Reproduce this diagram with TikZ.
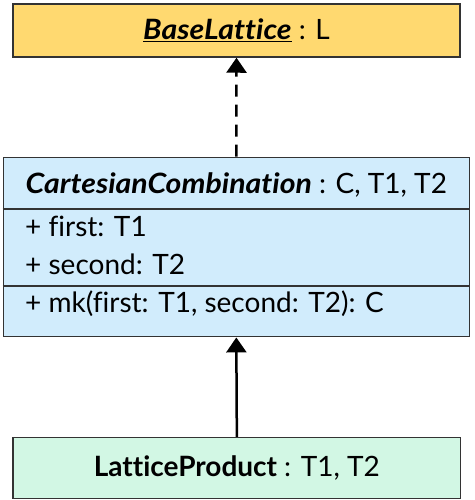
\documentclass[tikz,border=0pt]{standalone}
\usepackage{fontspec}
\setmainfont{Lato}[Ligatures=CommonOff]
\usepackage{xcolor}
\usetikzlibrary{arrows.meta,positioning}
\definecolor{baselattice}{RGB}{255,217,112}
\definecolor{combination}{RGB}{209,236,252}
\definecolor{product}{RGB}{210,247,228}
\definecolor{border}{RGB}{51,51,51}
\newcommand{\umlfont}{\fontsize{28}{33}\selectfont}
\newcommand{\absname}[1]{\scalebox{1.08}[1]{\textbf{\textit{#1}}}}
\tikzstyle{classbox}=[rectangle, draw=border, line width=1.5pt, inner sep=0pt, font=\umlfont]
\tikzstyle{member}=[anchor=west, inner sep=0pt, font=\umlfont]
\tikzstyle{relation}=[line width=2.5pt, -{Triangle[width=20pt,length=15pt]}]

\begin{document}
\begin{tikzpicture}[x=1pt,y=1pt]
  \useasboundingbox (0,0) rectangle (474,500);
  %% classes
  \draw (236.5,469.5) node[classbox, fill=baselattice, minimum width=447pt, minimum height=53pt] (BL) {\underline{\absname{BaseLattice}} : L};
  \draw (236.3,253) node[classbox, fill=combination, minimum width=466pt, minimum height=179.4pt] (CC) {};
  \draw (236.85,31.9) node[classbox, fill=product, minimum width=447.7pt, minimum height=60.8pt] (LP) {\textbf{LatticeProduct} : T1, T2};

  %% compartments of CartesianCombination
  \draw (236.3,315) node[font=\umlfont, inner sep=0pt] (CCname) {\absname{CartesianCombination} : C, T1, T2};
  \coordinate (sepA) at (0,291);
  \coordinate (sepB) at (0,214);
  \draw[border, line width=1.5pt] (CC.west |- sepA) -- (CC.east |- sepA);
  \draw[border, line width=1.5pt] (CC.west |- sepB) -- (CC.east |- sepB);
  \draw (25,274) node[member] (first) {+ first: T1};
  \draw (25,236) node[member] (second) {+ second: T2};
  \draw (25,196) node[member] (mk) {+ mk(first: T1, second: T2): C};

  %% relations
  \draw[relation, dash pattern=on 12pt off 8pt] (CC.north) -- (BL.south);
  \draw[relation] (LP.north) -- (CC.south);
\end{tikzpicture}
\end{document}
